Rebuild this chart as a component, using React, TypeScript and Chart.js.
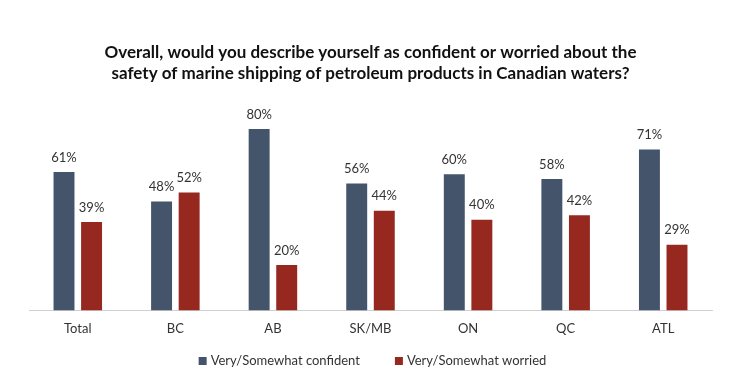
import React, { useEffect, useRef } from "react";
import { Chart, registerables } from "chart.js";

Chart.register(...registerables);

const categories = ["Total", "BC", "AB", "SK/MB", "ON", "QC", "ATL"];
const confident = [61, 48, 80, 56, 60, 58, 71];
const worried = [39, 52, 20, 44, 40, 42, 29];
const seriesNames = ["Very/Somewhat confident", "Very/Somewhat worried"];
const seriesColors = ["#44546A", "#962820"];
const titleLines = [
  "Overall, would you describe yourself as confident or worried about the",
  "safety of marine shipping of petroleum products in Canadian waters?",
];

const FONT = "Lato, 'Open Sans', sans-serif";

const valueLabels = {
  id: "valueLabels",
  afterDatasetsDraw(chart: any) {
    const ctx = chart.ctx;
    ctx.save();
    ctx.font = `13px ${FONT}`;
    ctx.fillStyle = "#333333";
    ctx.textAlign = "center";
    ctx.textBaseline = "bottom";
    chart.data.datasets.forEach((ds: any, i: number) => {
      const meta = chart.getDatasetMeta(i);
      meta.data.forEach((bar: any, j: number) => {
        ctx.fillText(ds.data[j] + "%", bar.x, bar.y - 8);
      });
    });
    ctx.restore();
  },
};

const customLegend = {
  id: "customLegend",
  afterDraw(chart: any) {
    const ctx = chart.ctx;
    const area = chart.chartArea;
    ctx.save();
    ctx.font = `13px ${FONT}`;
    ctx.textBaseline = "middle";
    ctx.textAlign = "left";
    const box = 8;
    const gapBoxText = 4;
    const gapItems = 35;
    const items = chart.data.datasets.map((ds: any) => ({
      text: ds.label,
      color: ds.backgroundColor,
      w: box + gapBoxText + ctx.measureText(ds.label).width,
    }));
    const total = items.reduce((s: number, it: any) => s + it.w, 0) + gapItems * (items.length - 1);
    let x = (area.left + area.right) / 2 + 2 - total / 2;
    const y = 361;
    items.forEach((it: any) => {
      ctx.fillStyle = it.color;
      ctx.fillRect(x, y - box / 2, box, box);
      ctx.fillStyle = "#333333";
      ctx.fillText(it.text, x + box + gapBoxText, y);
      x += it.w + gapItems;
    });
    ctx.restore();
  },
};

export default function App() {
  const ref = useRef<HTMLCanvasElement>(null);
  useEffect(() => {
    if (!ref.current) return;
    const chart = new Chart(ref.current, {
      type: "bar",
      data: {
        labels: categories,
        datasets: [
          {
            label: seriesNames[0],
            data: confident,
            backgroundColor: seriesColors[0],
            barPercentage: 0.76,
            categoryPercentage: 0.565,
          },
          {
            label: seriesNames[1],
            data: worried,
            backgroundColor: seriesColors[1],
            barPercentage: 0.76,
            categoryPercentage: 0.565,
          },
        ],
      },
      options: {
        responsive: false,
        animation: false,
        layout: { padding: { left: 29, right: 25, top: 0, bottom: 38 } },
        plugins: {
          title: {
            display: true,
            text: titleLines,
            color: "#111111",
            font: { family: FONT, size: 17, weight: "bold", lineHeight: "21px" },
            padding: { top: 42, bottom: 11 },
          },
          legend: { display: false },
          tooltip: { enabled: false },
        },
        scales: {
          x: {
            grid: { display: false },
            border: { display: true, color: "#d0d0d0" },
            ticks: { color: "#333333", font: { family: FONT, size: 13 }, padding: 3 },
          },
          y: {
            display: false,
            min: 0,
            max: 95,
          },
        },
      },
      plugins: [valueLabels, customLegend],
    });
    return () => chart.destroy();
  }, []);
  return (
    <div style={{ position: "fixed", left: 0, top: 0, width: 737, height: 378, background: "#fff" }}>
      <canvas ref={ref} width={737} height={378} />
    </div>
  );
}
